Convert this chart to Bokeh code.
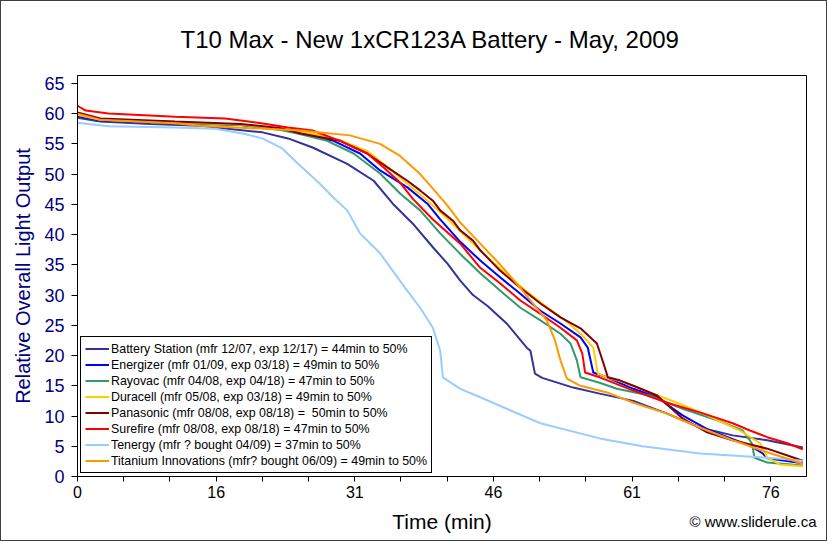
from bokeh.plotting import figure
from bokeh.models import Range1d, FixedTicker, Legend, LegendItem, Title
from bokeh.embed import file_html
from bokeh.resources import INLINE

# ---- data (time in min, relative output) ----
bs_t = [0, 2.5, 8.0, 13.5, 16.5, 20.3, 23.1, 25.8, 29.6, 32.5, 34.6, 36.8, 39.0, 40.6, 42.0, 43.4, 45.0, 47.1, 49.3, 49.7, 50.2, 51.0, 54.4, 57.3, 61.0, 64.7, 68.3, 71.9, 75.7, 79.6]
bs_v = [59.3, 58.7, 58.3, 58.0, 57.5, 56.9, 55.9, 54.4, 51.7, 48.9, 45.1, 41.8, 37.9, 35.2, 32.4, 30.0, 28.2, 25.3, 21.3, 20.8, 17.0, 16.3, 14.7, 13.7, 12.5, 10.4, 8.1, 6.8, 6.0, 4.8]

en_t = [0, 2.5, 10.7, 17.9, 22.3, 24.5, 28.1, 31.0, 33.2, 36.2, 38.4, 39.8, 42.0, 44.2, 46.4, 48.6, 50.8, 53.0, 55.2, 56.0, 56.6, 58.1, 61.0, 63.6, 66.4, 69.4, 73.8, 75.2, 75.7, 79.6]
en_v = [59.6, 58.9, 58.5, 58.1, 57.4, 56.7, 55.5, 53.4, 50.6, 47.8, 45.1, 42.5, 38.8, 35.7, 32.9, 30.2, 27.4, 25.3, 23.0, 21.3, 17.2, 16.4, 14.5, 13.1, 10.1, 7.6, 5.1, 3.8, 3.0, 2.2]

ra_t = [0, 2.5, 10.7, 17.9, 22.3, 24.5, 27.4, 30.3, 33.2, 35.4, 37.6, 39.8, 42.0, 44.2, 46.4, 48.6, 50.8, 53.0, 54.1, 54.8, 55.2, 57.3, 59.2, 62.8, 66.4, 70.2, 73.0, 74.0, 74.3, 75.7, 79.6]
ra_v = [59.8, 59.0, 58.4, 58.1, 57.3, 56.6, 55.5, 53.4, 50.1, 46.8, 44.0, 40.2, 36.8, 33.6, 30.7, 27.9, 25.8, 23.6, 22.0, 19.2, 16.4, 15.5, 14.5, 13.4, 11.2, 9.3, 7.6, 5.5, 3.1, 2.3, 1.8]

du_t = [0, 2.5, 10.7, 17.9, 22.3, 25.5, 28.8, 31.8, 34.0, 36.2, 38.4, 40.6, 42.8, 45.0, 47.1, 49.3, 51.5, 53.7, 55.2, 56.6, 57.1, 58.1, 60.3, 63.2, 65.8, 69.1, 72.7, 74.9, 75.7, 77.1, 79.6]
du_v = [59.8, 59.0, 58.6, 58.2, 57.6, 56.8, 55.6, 53.8, 51.2, 48.4, 45.6, 42.6, 39.4, 36.2, 33.4, 30.6, 28.0, 25.6, 23.6, 21.3, 17.0, 16.4, 15.4, 13.7, 12.2, 10.1, 7.6, 5.5, 3.1, 2.0, 1.7]

pa_t = [0, 2.5, 10.7, 17.9, 22.3, 24.5, 28.8, 31.8, 34.0, 36.2, 37.6, 39.0, 39.8, 41.2, 42.0, 43.4, 44.2, 46.4, 48.6, 50.8, 53.0, 55.2, 57.0, 57.7, 58.2, 59.5, 61.0, 63.6, 66.4, 69.1, 71.9, 75.7, 79.6]
pa_v = [60.2, 59.2, 58.7, 58.3, 57.6, 56.7, 55.5, 53.4, 51.1, 48.9, 47.3, 45.6, 44.0, 42.3, 40.7, 39.0, 37.4, 34.0, 31.2, 28.6, 26.3, 24.5, 22.0, 18.8, 16.4, 15.9, 15.0, 13.4, 9.6, 7.3, 6.0, 4.6, 2.6]

sf_t = [0, 0.9, 3.4, 10.7, 16.2, 19.8, 23.1, 25.8, 28.8, 31.8, 33.6, 35.4, 36.8, 39.0, 42.0, 44.2, 46.4, 48.6, 50.8, 53.0, 54.8, 55.4, 55.7, 57.3, 61.0, 64.7, 68.3, 71.9, 73.8, 75.7, 77.9, 79.6]
sf_v = [61.3, 60.5, 60.0, 59.5, 59.2, 58.5, 57.7, 57.2, 55.5, 53.4, 51.1, 48.6, 45.9, 42.5, 38.5, 34.5, 31.9, 29.1, 26.9, 24.6, 22.5, 20.3, 17.2, 16.4, 14.2, 12.2, 10.6, 8.8, 7.6, 6.5, 5.5, 4.5]

te_t = [0, 3.4, 10.7, 15.1, 18.1, 20.3, 22.5, 24.2, 26.6, 28.1, 29.6, 31.0, 33.2, 34.6, 36.2, 37.6, 39.0, 39.8, 40.1, 42.0, 44.2, 47.1, 50.8, 57.3, 62.0, 68.3, 75.7, 79.6]
te_v = [58.5, 57.9, 57.7, 57.5, 56.7, 55.9, 54.2, 51.7, 48.4, 46.1, 44.0, 40.2, 36.9, 34.0, 30.7, 27.9, 24.6, 20.8, 16.4, 14.5, 13.1, 11.2, 8.8, 6.3, 5.0, 3.8, 3.1, 2.6]

ti_t = [0, 2.5, 10.7, 13.5, 24.5, 29.9, 33.2, 35.4, 37.6, 39.0, 40.6, 42.0, 44.2, 46.4, 48.2, 50.0, 51.5, 52.4, 53.0, 53.7, 55.2, 58.1, 61.0, 64.7, 68.3, 71.9, 75.7, 79.6]
ti_v = [60.0, 59.0, 58.4, 58.0, 57.2, 56.4, 55.0, 53.0, 50.0, 47.6, 44.8, 42.0, 38.5, 35.0, 31.9, 28.6, 25.8, 22.5, 19.2, 16.2, 15.0, 13.9, 12.2, 10.4, 8.1, 6.0, 4.0, 2.1]

series_names = [
    "Battery Station (mfr 12/07, exp 12/17) = 44min to 50%",
    "Energizer (mfr 01/09, exp 03/18) = 49min to 50%",
    "Rayovac (mfr 04/08, exp 04/18) = 47min to 50%",
    "Duracell (mfr 05/08, exp 03/18) = 49min to 50%",
    "Panasonic (mfr 08/08, exp 08/18) =  50min to 50%",
    "Surefire (mfr 08/08, exp 08/18) = 47min to 50%",
    "Tenergy (mfr ? bought 04/09) = 37min to 50%",
    "Titanium Innovations (mfr? bought 06/09) = 49min to 50%",
]
series_t = [bs_t, en_t, ra_t, du_t, pa_t, sf_t, te_t, ti_t]
series_v = [bs_v, en_v, ra_v, du_v, pa_v, sf_v, te_v, ti_v]
series_colors = ["#333399", "#0000FF", "#339966", "#FFCC00", "#800000", "#FF0000", "#99CCFF", "#FF9900"]

x_ticks = [0, 5.07, 10.14, 15.22, 20.29, 25.36, 30.43, 35.5, 40.58, 45.65, 50.72, 55.79, 60.86, 65.94, 71.01, 76.08]
x_tick_labels = ["0", "", "", "16", "", "", "31", "", "", "46", "", "", "61", "", "", "76"]
y_ticks = [0, 5, 10, 15, 20, 25, 30, 35, 40, 45, 50, 55, 60, 65]

FONT = "Liberation Sans"

p = figure(width=827, height=541, output_backend="svg", toolbar_location=None,
           x_range=Range1d(0, 80), y_range=Range1d(0, 66.3),
           min_border_left=76, min_border_right=22, min_border_top=74, min_border_bottom=66)
p.styles = {"border": "1px solid #404040"}
p.background_fill_color = "white"
p.border_fill_color = "white"
p.outline_line_color = "black"
p.outline_line_width = 1
p.outline_line_alpha = 1
p.xgrid.visible = False
p.ygrid.visible = False

# title
p.title = Title(text="T10 Max - New 1xCR123A Battery - May, 2009", align="left", offset=103,
                text_font=FONT, text_font_size="24px", text_font_style="normal",
                text_color="black", standoff=45)

# axes
p.xaxis.ticker = FixedTicker(ticks=x_ticks)
p.xaxis.major_label_overrides = {t: l for t, l in zip(x_ticks, x_tick_labels)}
p.xaxis.minor_tick_line_color = None
p.xaxis.major_tick_in = 0
p.xaxis.major_tick_out = 5
p.xaxis.axis_line_color = "black"
p.xaxis.major_tick_line_color = "black"
p.xaxis.major_label_text_font = FONT
p.xaxis.major_label_text_font_size = "16px"
p.xaxis.major_label_text_color = "black"
p.xaxis.major_label_standoff = 4
p.xaxis.axis_label = "Time (min)"
p.xaxis.axis_label_text_font = FONT
p.xaxis.axis_label_text_font_size = "21px"
p.xaxis.axis_label_text_font_style = "normal"
p.xaxis.axis_label_text_color = "black"
p.xaxis.axis_label_standoff = 9

p.yaxis.ticker = FixedTicker(ticks=y_ticks)
p.yaxis.minor_tick_line_color = None
p.yaxis.major_tick_in = 0
p.yaxis.major_tick_out = 6
p.yaxis.axis_line_color = "black"
p.yaxis.major_tick_line_color = "black"
p.yaxis.major_label_text_font = FONT
p.yaxis.major_label_text_font_size = "18px"
p.yaxis.major_label_text_color = "#000080"
p.yaxis.major_label_standoff = 7
p.yaxis.axis_label = "Relative Overall Light Output"
p.yaxis.axis_label_text_font = FONT
p.yaxis.axis_label_text_font_size = "20px"
p.yaxis.axis_label_text_font_style = "normal"
p.yaxis.axis_label_text_color = "#000080"
p.yaxis.axis_label_standoff = 7

credit = Title(text="\u00a9 www.sliderule.ca", align="right", offset=-10, vertical_align="top",
               text_font=FONT, text_font_size="15px", text_font_style="normal",
               text_color="black", standoff=-46)
p.add_layout(credit, "below")

items = []
for name, t, v, c in zip(series_names, series_t, series_v, series_colors):
    r = p.line(t, v, line_color=c, line_width=2)
    items.append(LegendItem(label=name, renderers=[r]))

legend = Legend(items=items, location=(3, 3))
legend.margin = 0
legend.padding = 4
legend.spacing = 1
legend.label_height = 15
legend.glyph_height = 15
legend.glyph_width = 24
legend.label_standoff = 2
legend.label_text_font = FONT
legend.label_text_font_size = "12.4px"
legend.label_text_color = "black"
legend.border_line_color = "black"
legend.border_line_width = 1
legend.border_line_alpha = 1
legend.background_fill_color = "white"
legend.background_fill_alpha = 1
p.add_layout(legend, "center")

open("out.html", "w").write(file_html(p, INLINE))
